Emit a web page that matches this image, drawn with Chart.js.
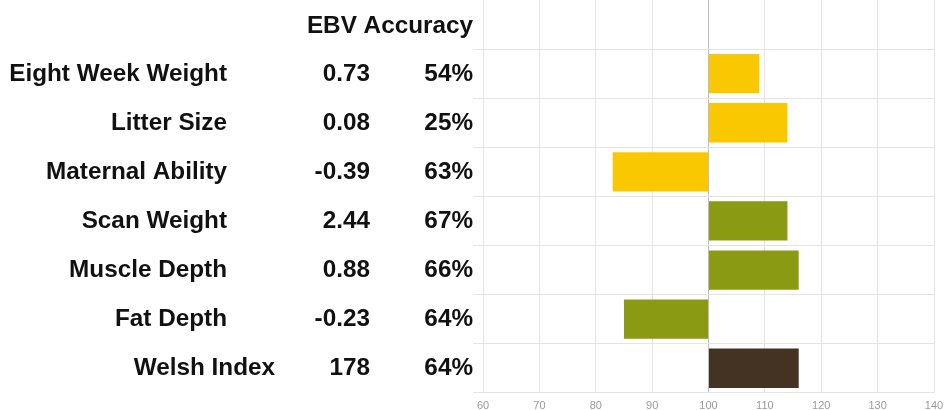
<!DOCTYPE html>
<html>
<head>
<meta charset="utf-8">
<script src="https://cdn.jsdelivr.net/npm/chart.js@4/dist/chart.umd.min.js"></script>
<style>
  html, body { margin: 0; padding: 0; background: #fff; }
  #ebvChart { display: block; }
</style>
</head>
<body>
<canvas id="ebvChart" width="944" height="410"></canvas>
<script>
// rows of the table (first row is the header row, no bar)
const traits = ['', 'Eight Week Weight', 'Litter Size', 'Maternal Ability', 'Scan Weight', 'Muscle Depth', 'Fat Depth', 'Welsh Index'];
const ebvValues = ['', '0.73', '0.08', '-0.39', '2.44', '0.88', '-0.23', '178'];
const accuracies = ['', '54%', '25%', '63%', '67%', '66%', '64%', '64%'];
// bar end on the 60-140 scale, bars start at 100
const barEnds = [null, 109, 114, 83, 114, 116, 85, 116];
const xTicks = [60, 70, 80, 90, 100, 110, 120, 130, 140];
const barBase = 100;

const barColors = ['#f9c800', '#f9c800', '#f9c800', '#f9c800', '#8a9a12', '#8a9a12', '#8a9a12', '#443222'];

const tableText = {
  id: 'tableText',
  afterDraw(chart) {
    const ctx = chart.ctx;
    const y = chart.scales.y;
    ctx.save();
    ctx.fillStyle = '#111';
    ctx.font = 'bold 24.3px "Liberation Sans", Arial, sans-serif';
    ctx.textAlign = 'right';
    ctx.textBaseline = 'alphabetic';

    const headY = y.getPixelForValue(0);
    ctx.fillText('EBV Accuracy', 473, headY + 8);

    for (let i = 1; i < traits.length; i++) {
      const cy = y.getPixelForValue(i) + 7;
      const nameRight = (i === traits.length - 1) ? 275 : 227;
      ctx.fillText(traits[i], nameRight, cy);
      ctx.fillText(ebvValues[i], 370, cy);
      ctx.fillText(accuracies[i], 473, cy);
    }
    ctx.restore();
  }
};

new Chart(document.getElementById('ebvChart'), {
  type: 'bar',
  data: {
    labels: traits,
    datasets: [{
      data: barEnds,
      base: barBase,
      backgroundColor: barColors,
      borderWidth: 0,
      barPercentage: 1,
      categoryPercentage: 0.8,
    }]
  },
  options: {
    indexAxis: 'y',
    responsive: false,
    animation: false,
    layout: { padding: { left: 473, right: 10, top: 0, bottom: -10 } },
    plugins: { legend: { display: false }, tooltip: { enabled: false } },
    scales: {
      x: {
        min: 60,
        max: 140,
        afterBuildTicks(axis) { axis.ticks = xTicks.map(v => ({ value: v })); },
        afterFit(axis) { axis.paddingLeft = 0; axis.paddingRight = 0; },
        border: { display: false },
        grid: {
          drawTicks: false,
          color: ctx => (ctx.tick && ctx.tick.value === barBase) ? '#bdbdbd' : '#e4e4e4',
        },
        ticks: {
          padding: 7,
          color: '#9a9a9a',
          font: { family: '"Liberation Sans", Arial, sans-serif', size: 11 },
        }
      },
      y: {
        border: { display: false },
        grid: { offset: true, color: '#e4e4e4', drawTicks: true, tickLength: 10 },
        ticks: { display: false }
      }
    }
  },
  plugins: [tableText]
});
</script>
</body>
</html>
